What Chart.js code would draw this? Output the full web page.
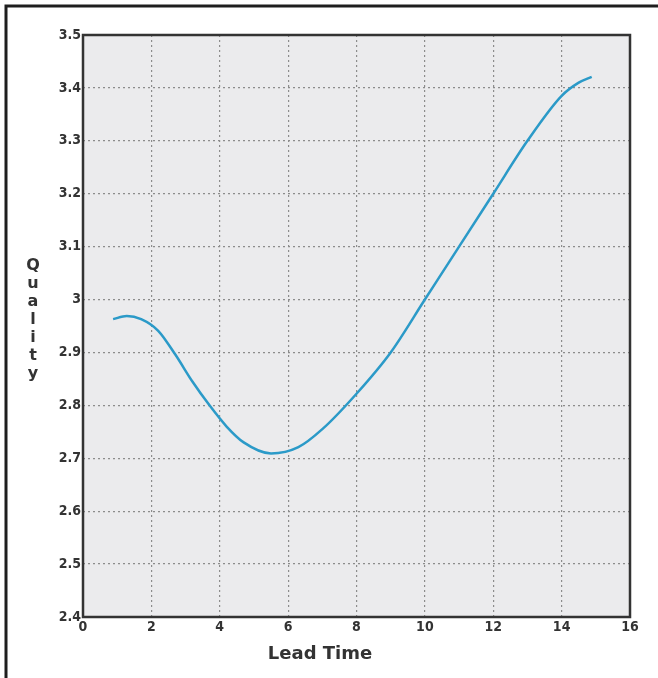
<!DOCTYPE html>
<html>
<head>
<meta charset="utf-8">
<script src="https://cdn.jsdelivr.net/npm/chart.js@4"></script>
<style>
  html, body { margin: 0; padding: 0; background: #fff; }
  #wrap { width: 658px; height: 678px; position: relative; }
</style>
</head>
<body>
<div id="wrap"><canvas id="myChart" width="658" height="678"></canvas></div>
<script>
// values
var leadTime = [0.88, 1.28, 1.7, 2.2, 2.7, 3.2, 3.7, 4.2, 4.7, 5.5, 6.3, 7, 8, 9, 10, 11, 12, 13, 14, 14.5, 14.88];
var quality = [2.963, 2.969, 2.963, 2.941, 2.896, 2.845, 2.8, 2.76, 2.73, 2.709, 2.721, 2.755, 2.822, 2.9, 3.0, 3.1, 3.2, 3.3, 3.385, 3.41, 3.421];
var xTicks = [0, 2, 4, 6, 8, 10, 12, 14, 16];
var yTicks = [2.4, 2.5, 2.6, 2.7, 2.8, 2.9, 3, 3.1, 3.2, 3.3, 3.4, 3.5];

var tickFont = { family: "'DejaVu Sans Condensed', 'DejaVu Sans', sans-serif", size: 14, weight: "bold" };

var framePlugin = {
  id: "frame",
  beforeDraw: function(chart) {
    var c = chart.ctx, a = chart.chartArea;
    c.save();
    // outer frame (top and left edges only, like the cropped scan)
    c.strokeStyle = "#1e1e1e";
    c.lineWidth = 3;
    c.beginPath();
    c.moveTo(6, 700);
    c.lineTo(6, 6);
    c.lineTo(700, 6);
    c.stroke();
    c.fillStyle = "#ebebed";
    c.fillRect(a.left, a.top, a.right - a.left, a.bottom - a.top);
    c.restore();
  },
  afterDraw: function(chart) {
    var c = chart.ctx, a = chart.chartArea;
    c.save();
    c.strokeStyle = "#333";
    c.lineWidth = 2.5;
    c.strokeRect(a.left, a.top, a.right - a.left, a.bottom - a.top);
    c.fillStyle = "#333";
    c.textAlign = "center";
    c.textBaseline = "middle";
    c.font = "bold 18px 'DejaVu Sans', sans-serif";
    c.fillText("Lead Time", 320, 654);
    c.font = "bold 16px 'DejaVu Sans', sans-serif";
    var letters = "Quality".split("");
    for (var i = 0; i < letters.length; i++) {
      c.fillText(letters[i], 33, 266 + i * 18);
    }
    c.restore();
  }
};

var points = leadTime.map(function(x, i) { return { x: x, y: quality[i] }; });

var ctx = document.getElementById("myChart").getContext("2d");
var chart = new Chart(ctx, {
  type: "line",
  data: {
    datasets: [
      {
        label: "Quality",
        data: points,
        borderColor: "#2b9ac8",
        backgroundColor: "rgba(0,0,0,0)",
        borderWidth: 2.5,
        pointRadius: 0,
        cubicInterpolationMode: "monotone",
        fill: false
      }
    ]
  },
  options: {
    responsive: false,
    animation: false,
    layout: { padding: { left: 0, right: 28, top: 35, bottom: 0 } },
    plugins: { legend: { display: false }, tooltip: { enabled: false } },
    scales: {
      x: {
        type: "linear",
        min: 0,
        max: 16,
        afterBuildTicks: function(scale) {
          scale.ticks = xTicks.map(function(v) { return { value: v }; });
        },
        afterFit: function(scale) { scale.height = 61; },
        ticks: {
          font: tickFont,
          color: "#333",
          padding: 2,
          maxRotation: 0,
          autoSkip: false,
          callback: function(v) { return String(v); }
        },
        grid: { color: "#8c8c8c", lineWidth: 1.2, drawTicks: false },
        border: { display: false, dash: [2, 3] }
      },
      y: {
        min: 2.4,
        max: 3.5,
        afterBuildTicks: function(scale) {
          scale.ticks = yTicks.map(function(v) { return { value: v }; });
        },
        afterFit: function(scale) { scale.width = 83; },
        ticks: {
          font: tickFont,
          color: "#333",
          padding: 2,
          autoSkip: false,
          callback: function(v) { return String(+v.toFixed(1)); }
        },
        grid: { color: "#8c8c8c", lineWidth: 1.2, drawTicks: false },
        border: { display: false, dash: [2, 3] }
      }
    }
  },
  plugins: [framePlugin]
});
</script>
</body>
</html>
